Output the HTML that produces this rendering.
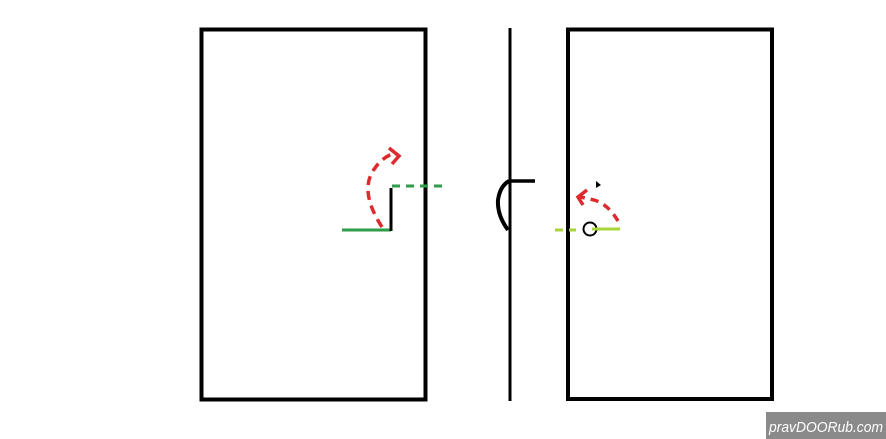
<!DOCTYPE html>
<html><head><style>
html,body{margin:0;padding:0;background:#fff;width:886px;height:439px;overflow:hidden}
</style></head><body>
<svg width="886" height="439" viewBox="0 0 886 439" xmlns="http://www.w3.org/2000/svg">
<rect x="0" y="0" width="886" height="439" fill="#fff"/>
<rect x="201.5" y="29.5" width="224" height="370" fill="none" stroke="#000" stroke-width="4"/>
<rect x="568" y="29.5" width="204" height="369.5" fill="none" stroke="#000" stroke-width="4"/>
<line x1="510" y1="28" x2="510" y2="401" stroke="#000" stroke-width="3"/>
<line x1="342" y1="230" x2="391" y2="230" stroke="#2e9e4a" stroke-width="3"/>
<line x1="391" y1="188" x2="391" y2="231" stroke="#000" stroke-width="3"/>
<line x1="392" y1="186" x2="446" y2="186" stroke="#2e9e4a" stroke-width="3" stroke-dasharray="8,6"/>
<path d="M382 227 Q358 190 375 168 Q382 158 392 154" fill="none" stroke="#dc2a2e" stroke-width="3.5" stroke-dasharray="9,6"/>
<path d="M389 148 L399 156 L392 164" fill="none" stroke="#dc2a2e" stroke-width="3.5"/>
<line x1="509" y1="181" x2="535" y2="181" stroke="#000" stroke-width="3.5"/>
<path d="M509 181 Q500 186 498 200 Q497 215 508 230" fill="none" stroke="#000" stroke-width="4"/>
<line x1="555" y1="230" x2="576" y2="230" stroke="#a8d63a" stroke-width="3" stroke-dasharray="8,6"/>
<circle cx="590" cy="229" r="6.5" fill="none" stroke="#000" stroke-width="2"/>
<line x1="592" y1="229" x2="620" y2="229" stroke="#a8d63a" stroke-width="3"/>
<path d="M618 221 Q608 204 594 200 Q586 198 580 197" fill="none" stroke="#dc2a2e" stroke-width="3.5" stroke-dasharray="8,6"/>
<path d="M587 190 L578 197 L583 205" fill="none" stroke="#dc2a2e" stroke-width="3.5"/>
<path d="M596 181 L601 185 L596 188 Z" fill="#000"/>
<rect x="766" y="412" width="120" height="27" fill="#8a8a8a"/>
<text x="769" y="432" font-family="Liberation Sans, sans-serif" font-style="italic" font-size="15" fill="#fff" textLength="114" lengthAdjust="spacingAndGlyphs">pravDOORub.com</text>
</svg>
</body></html>
